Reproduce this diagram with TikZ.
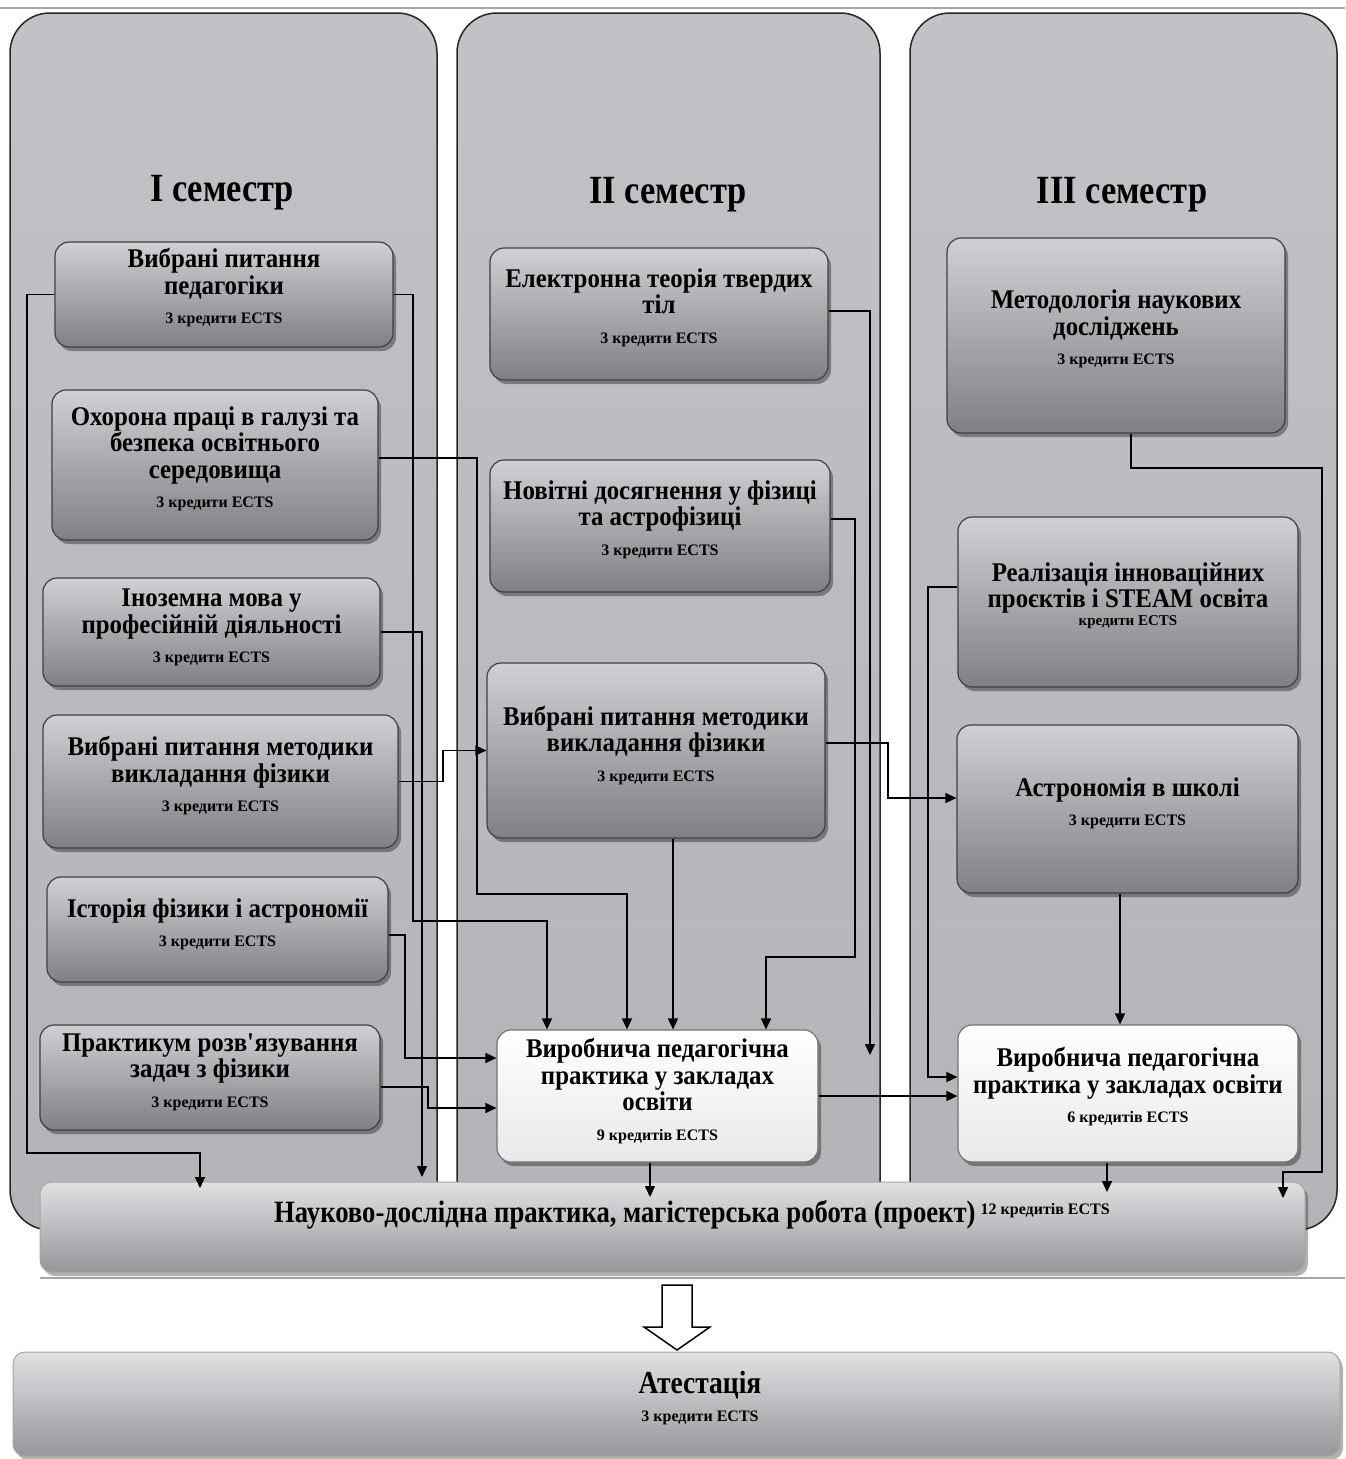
\documentclass[tikz,border=0pt]{standalone}
\usepackage{fontspec}
\setmainfont{Liberation Serif}
\newfontfamily\condf[FakeStretch=0.86]{Liberation Serif}
\newfontfamily\condb[FakeStretch=0.92]{Liberation Serif}
\usetikzlibrary{arrows.meta,shadows,calc}
\definecolor{panelc}{RGB}{180,180,184}
\definecolor{paneltop}{RGB}{194,194,198}
\definecolor{boxtop}{RGB}{208,208,212}
\definecolor{boxbot}{RGB}{128,128,132}
\definecolor{wbot}{RGB}{232,232,234}
\definecolor{bartop}{RGB}{225,225,228}
\definecolor{barbot}{RGB}{150,150,154}
\newcommand{\cbx}[8]{%
  \node[#7, minimum width=#4pt, minimum height=#5pt] (#1) at (#2,#3) {};
  \node[ctext] (#1t) at (#2,#6) {#8};}
\newcommand{\ects}[1]{\\[3pt]{\fontspec{Liberation Serif}\bfseries\fontsize{16}{17}\selectfont #1}}
\begin{document}
\begin{tikzpicture}[x=1pt,y=-1pt,
  panel/.style={rounded corners=40pt, draw=black!85, line width=1.5pt, top color=paneltop, bottom color=panelc, inner sep=0},
  gbox/.style={rounded corners=14pt, draw=black!75, line width=1.2pt, top color=boxtop, bottom color=boxbot, inner sep=0,
     drop shadow={shadow xshift=3pt, shadow yshift=-4pt, opacity=0.35, fill=black}},
  wbox/.style={rounded corners=14pt, draw=black!55, line width=1.2pt, top color=white, bottom color=wbot, inner sep=0,
     drop shadow={shadow xshift=3pt, shadow yshift=-4pt, opacity=0.35, fill=black}},
  barst/.style={rounded corners=12pt, draw=black!35, line width=1pt, top color=bartop, bottom color=barbot, inner sep=0,
     drop shadow={shadow xshift=3pt, shadow yshift=-4pt, opacity=0.3, fill=black}},
  ctext/.style={align=center, inner sep=0, font=\condb\bfseries\fontsize{27}{26.5}\selectfont},
  head/.style={inner sep=0, font=\condf\bfseries\fontsize{40}{42}\selectfont},
  arr/.style={draw=black, line width=1.5pt, -{Triangle[length=11pt,width=10pt]}}]
\useasboundingbox (0,0) rectangle (1345,1459);
\fill[white] (0,0) rectangle (1345,1459);
\draw[black!35, line width=2pt] (0,8) -- (1345,8);

% panels
\node[panel, minimum width=427pt, minimum height=1217pt] (pan1) at (223.5,621.5) {};
\node[panel, minimum width=423pt, minimum height=1217pt] (pan2) at (668.5,621.5) {};
\node[panel, minimum width=427pt, minimum height=1217pt] (pan3) at (1123.5,621.5) {};
\node[head] (h1) at (222,193) {I семестр};
\node[head] (h2) at (668,195) {II семестр};
\node[head] (h3) at (1122,195) {III семестр};

% column 1
\cbx{c1a}{224}{294.5}{338}{105}{288}{gbox}{Вибрані питання\\педагогіки\ects{3 кредити ECTS}}
\cbx{c1b}{215}{465}{326}{150}{459}{gbox}{Охорона праці в галузі та\\безпека освітнього\\середовища\ects{3 кредити ECTS}}
\cbx{c1c}{211.5}{632}{337}{108}{627.5}{gbox}{Іноземна мова у\\професійній діяльності\ects{3 кредити ECTS}}
\cbx{c1d}{220.5}{781.5}{355}{133}{776}{gbox}{Вибрані питання методики\\викладання фізики\ects{3 кредити ECTS}}
\cbx{c1e}{217.5}{929.5}{341}{105}{924.5}{gbox}{Історія фізики і астрономії\ects{3 кредити ECTS}}
\cbx{c1f}{210}{1077.5}{340}{105}{1072}{gbox}{Практикум розв\textquotesingle язування\\задач з фізики\ects{3 кредити ECTS}}

% column 2
\cbx{c2a}{659}{314}{338}{132}{307.5}{gbox}{Електронна теорія твердих\\тіл\ects{3 кредити ECTS}}
\cbx{c2b}{660}{526}{340}{132}{519.5}{gbox}{Новітні досягнення у фізиці\\та астрофізиці\ects{3 кредити ECTS}}
\cbx{c2c}{656}{750.5}{338}{175}{745.5}{gbox}{Вибрані питання методики\\викладання фізики\ects{3 кредити ECTS}}
\cbx{c2d}{657.5}{1096}{321}{132}{1091}{wbox}{Виробнича педагогічна\\практика у закладах\\освіти\ects{9 кредитів ECTS}}

% column 3
\cbx{c3a}{1116}{335.5}{338}{195}{329}{gbox}{Методологія наукових\\досліджень\ects{3 кредити ECTS}}
\node[gbox, minimum width=340pt, minimum height=170pt] (c3b) at (1128,602) {};
\node[ctext] (c3bt) at (1128,595.5) {Реалізація інноваційних\\проєктів і STEAM освіта\\[-8.5pt]{\fontspec{Liberation Serif}\bfseries\fontsize{15}{16}\selectfont кредити ECTS}};
\cbx{c3c}{1127.5}{809}{341}{168}{803.5}{gbox}{Астрономія в школі\ects{3 кредити ECTS}}
\cbx{c3d}{1128}{1093.5}{340}{137}{1087}{wbox}{Виробнича педагогічна\\практика у закладах освіти\ects{6 кредитів ECTS}}

% bottom bar
\node[barst, minimum width=1265pt, minimum height=90pt] (nd) at (672.5,1227) {};
\node[inner sep=0, anchor=base, font=\condf\bfseries\fontsize{31}{33}\selectfont] (ndt) at (692,1222)
  {Науково-дослідна практика, магістерська робота (проект)\,\raisebox{8pt}{\fontspec{Liberation Serif}\bfseries\fontsize{16}{17}\selectfont 12 кредитів ECTS}};
\draw[black!35, line width=2pt] (40,1278) -- (1345,1278);

% connectors
\coordinate (hend) at (870,1055);
\draw[arr] (c1a.west) -- (27,0 |- c1a.west) -- (27,1153) -- (200,1153) -- (200,1188);
\draw[arr] (c1a.east) -- (413,0 |- c1a.east) -- (413,921) -- (547,921) -- (547,0 |- c2d.north);
\draw[arr] ([yshift=7pt]c1b.east) -- (477,458) -- (477,894) -- (627,894) -- (627,0 |- c2d.north);
\draw[arr] (c1c.east) -- (422,0 |- c1c.east) -- (422,1177);
\draw[arr] (c1d.east) -- (443,0 |- c1d.east) -- (443,0 |- c2c.west) -- (c2c.west);
\draw[arr] ([yshift=-5.5pt]c1e.east) -- (405,935) -- (405,1058) -- (c2d.west |- 405,1058);
\draw[arr] ([yshift=-9.5pt]c1f.east) -- (428,1087) -- (428,1108) -- (c2d.west |- 428,1108);
\draw[arr] ([yshift=3pt]c2a.east) -- (870,311) -- (hend);
\draw[arr] ([yshift=7pt]c2b.east) -- (855,519) -- (855,957) -- (766,957) -- (766,0 |- c2d.north);
\draw[arr] (673,0 |- c2c.south) -- (673,0 |- c2d.north);
\draw[arr] ([yshift=7.5pt]c2c.east) -- (888,743) -- (888,798) -- (c3c.west |- 888,798);
\draw[arr] (650,0 |- c2d.south) -- (650,1197);
\draw[arr] (c2d.east) -- (c3d.west |- c2d.east);
\draw[arr] (1131,0 |- c3a.south) -- (1131,468) -- (1322,468) -- (1322,1172) -- (1283,1172) -- (1283,1198);
\draw[arr] ([yshift=15pt]c3b.west) -- (928,587) -- (928,1077) -- (c3d.west |- 928,1077);
\draw[arr] (1120,0 |- c3c.south) -- (1120,0 |- c3d.north);
\draw[arr] (1107,0 |- c3d.south) -- (1107,1192);

% attestation
\node[barst, minimum width=1327pt, minimum height=104pt] (att) at (676.5,1404) {};
\node[ctext, font=\condf\bfseries\fontsize{32}{30}\selectfont] (attt) at (700,1398) {Атестація\\[-2pt]{\fontspec{Liberation Serif}\bfseries\fontsize{16}{17}\selectfont 3 кредити ECTS}};

% block arrow
\draw[line width=1.5pt, fill=white] (662,1285) -- (692,1285) -- (692,1327) -- (710,1327) -- (677,1350) -- (644,1327) -- (662,1327) -- cycle;
\end{tikzpicture}
\end{document}
